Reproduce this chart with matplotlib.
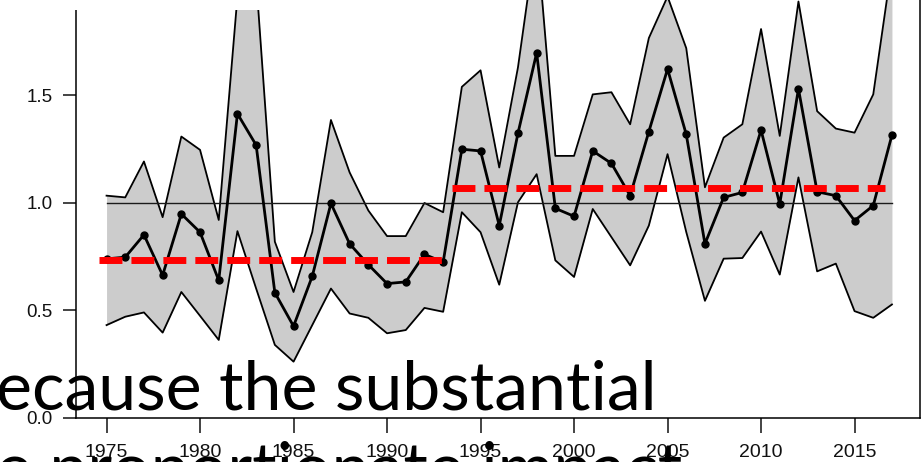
import matplotlib
matplotlib.use("Agg")
import matplotlib.pyplot as plt
from matplotlib.patches import Rectangle

years = list(range(1975, 2018))

mean = [0.740, 0.748, 0.852, 0.664, 0.949, 0.864, 0.640, 1.415, 1.269, 0.583,
        0.427, 0.659, 0.998, 0.810, 0.713, 0.625, 0.633, 0.761, 0.725, 1.250,
        1.242, 0.895, 1.324, 1.698, 0.975, 0.938, 1.242, 1.184, 1.034, 1.332,
        1.623, 1.319, 0.810, 1.026, 1.049, 1.339, 0.995, 1.531, 1.052, 1.034,
        0.918, 0.988, 1.316]

upper = [1.034, 1.026, 1.193, 0.934, 1.309, 1.247, 0.921, 1.960, 2.040, 0.820,
         0.586, 0.864, 1.386, 1.142, 0.965, 0.846, 0.846, 1.000, 0.957, 1.540,
         1.617, 1.165, 1.630, 2.250, 1.219, 1.219, 1.505, 1.515, 1.366, 1.767,
         1.960, 1.720, 1.073, 1.304, 1.366, 1.809, 1.312, 1.937, 1.427, 1.346,
         1.327, 1.505, 2.110]

lower = [0.432, 0.471, 0.491, 0.397, 0.586, 0.475, 0.363, 0.869, 0.602, 0.340,
         0.262, 0.432, 0.602, 0.486, 0.466, 0.394, 0.409, 0.512, 0.494, 0.957,
         0.864, 0.620, 1.003, 1.134, 0.733, 0.656, 0.972, 0.841, 0.710, 0.895,
         1.227, 0.865, 0.545, 0.741, 0.744, 0.867, 0.667, 1.119, 0.682, 0.718,
         0.497, 0.466, 0.528]

# period means (red dashed)
period1_x = [1974.6, 1993.0]
period1_y = 0.736
period2_x = [1993.47, 2016.63]
period2_y = 1.069

xticks = [1975, 1980, 1985, 1990, 1995, 2000, 2005, 2010, 2015]
yticks = [0.0, 0.5, 1.0, 1.5]
yticklabels = ["0.0", "0.5", "1.0", "1.5"]

line1 = "ecause the substantial"
line2 = "e proportionate impact"

plt.rcParams['font.family'] = ['Liberation Sans', 'DejaVu Sans']

fig = plt.figure(figsize=(9.23, 4.62), dpi=100)
ax = fig.add_axes([75.5 / 923, 44 / 462, 844.5 / 923, 418 / 462])

ax.fill_between(years, lower, upper, color='#cccccc', lw=0, zorder=1)
ax.plot(years, upper, color='black', lw=1.3, zorder=2)
ax.plot(years, lower, color='black', lw=1.3, zorder=2)
ax.plot([years[0], years[-1]], [1.0, 1.0], color='#1a1a1a', lw=1.0, zorder=3)
ax.plot(years, mean, '-o', color='black', lw=2.0, ms=5, zorder=4)

ax.plot(period1_x, [period1_y] * 2, color='red', lw=5, dashes=(3.3, 1.3),
        dash_capstyle='butt', zorder=5)
ax.plot(period2_x, [period2_y] * 2, color='red', lw=5, dashes=(3.3, 1.3),
        dash_capstyle='butt', zorder=5)

ax.set_xlim(1973.34, 2018.5)
ax.set_ylim(0, 1.944)
ax.set_xticks(xticks)
ax.set_yticks(yticks)
ax.set_yticklabels(yticklabels)
ax.spines['top'].set_visible(False)
for s in ['left', 'right', 'bottom']:
    ax.spines[s].set_linewidth(1.1)
ax.tick_params(axis='x', length=10.8, width=1.1, pad=8, labelsize=14, colors='#111111')
ax.tick_params(axis='y', length=9.4, width=1.1, pad=7, labelsize=13.5, colors='#111111')

# white box covering top-left strip of the slide
fig.patches.append(Rectangle((0, 1 - 10 / 462), 0.5, 10 / 462, transform=fig.transFigure,
                             facecolor='white', edgecolor='none', zorder=10))

fig.text(-4 / 923, 1 - 410 / 462, line1, fontsize=49, family=['Lato', 'DejaVu Sans'],
         ha='left', va='baseline', color='black', zorder=11)
fig.text(-4 / 923, 1 - 491 / 462, line2, fontsize=49, family=['Lato', 'DejaVu Sans'],
         ha='left', va='baseline', color='black', zorder=11)

fig.savefig("out.png", dpi=100)
